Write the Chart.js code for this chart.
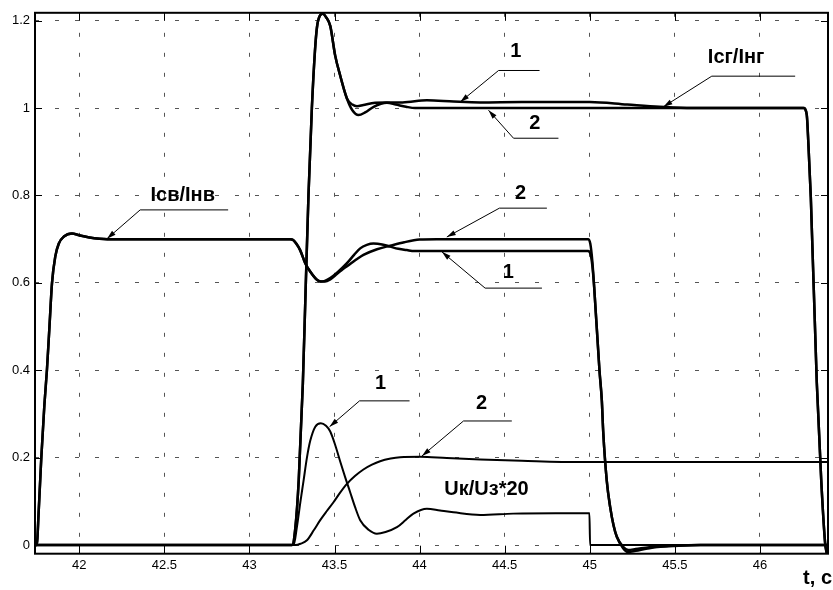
<!DOCTYPE html>
<html>
<head>
<meta charset="utf-8">
<script src="https://cdn.jsdelivr.net/npm/chart.js@4.4.0/dist/chart.umd.min.js"></script>
<style>
  html, body { margin: 0; padding: 0; background: #fff; }
  #wrap { width: 833px; height: 590px; position: relative; }
</style>
</head>
<body>
<div id="wrap"><canvas id="chart"></canvas></div>
<script>
// tick positions
const xTicks = [42, 42.5, 43, 43.5, 44, 44.5, 45, 45.5, 46];
const yTicks = [0, 0.2, 0.4, 0.6, 0.8, 1, 1.2];

// Iсв/Iнв, variant 1 and 2  [t, value]
const isv1 = [[41.74,0],[41.75,0],[41.762,0.08],[41.777,0.2],[41.795,0.32],[41.81,0.4],[41.825,0.5],[41.84,0.6],[41.859,0.66],[41.88,0.69],[41.91,0.706],[41.957,0.713],[42.0,0.709],[42.06,0.704],[42.12,0.701],[42.165,0.70],[43.24,0.70],[43.257,0.698],[43.275,0.69],[43.298,0.675],[43.328,0.645],[43.357,0.626],[43.397,0.607],[43.416,0.603],[43.44,0.604],[43.475,0.611],[43.52,0.625],[43.573,0.645],[43.615,0.664],[43.651,0.679],[43.69,0.687],[43.729,0.690],[43.78,0.688],[43.827,0.683],[43.875,0.678],[43.925,0.675],[43.97,0.673],[44.99,0.673],[45.005,0.665],[45.015,0.64],[45.026,0.59],[45.057,0.4],[45.071,0.33],[45.079,0.26],[45.1,0.147],[45.12,0.087],[45.14,0.045],[45.159,0.019],[45.196,-0.007],[45.226,-0.016],[45.27,-0.013],[45.35,-0.007],[45.414,-0.004],[45.5,-0.002],[45.65,0],[46.4,0]];
const isv2 = [[41.74,0],[41.75,0],[41.762,0.08],[41.777,0.2],[41.795,0.32],[41.81,0.4],[41.825,0.5],[41.84,0.6],[41.859,0.66],[41.88,0.69],[41.91,0.706],[41.957,0.713],[42.0,0.709],[42.06,0.704],[42.12,0.701],[42.165,0.70],[43.24,0.70],[43.257,0.698],[43.275,0.69],[43.298,0.675],[43.328,0.645],[43.357,0.626],[43.397,0.607],[43.42,0.603],[43.445,0.603],[43.475,0.608],[43.514,0.62],[43.55,0.632],[43.592,0.643],[43.63,0.654],[43.67,0.664],[43.75,0.677],[43.827,0.685],[43.91,0.693],[44.0,0.699],[44.1,0.70],[44.99,0.70],[45.003,0.69],[45.015,0.65],[45.026,0.59],[45.057,0.4],[45.071,0.33],[45.079,0.26],[45.1,0.147],[45.12,0.087],[45.14,0.045],[45.159,0.019],[45.196,-0.004],[45.226,-0.011],[45.27,-0.009],[45.35,-0.005],[45.414,-0.003],[45.5,-0.001],[45.65,0],[46.4,0]];

// Iсг/Iнг, variant 1 and 2
const icg1 = [[41.74,0],[43.25,0],[43.27,0.04],[43.29,0.15],[43.314,0.37],[43.33,0.58],[43.347,0.8],[43.367,1.0],[43.385,1.13],[43.397,1.185],[43.415,1.212],[43.432,1.216],[43.45,1.208],[43.475,1.188],[43.504,1.12],[43.533,1.075],[43.573,1.022],[43.605,1.008],[43.632,1.004],[43.67,1.007],[43.739,1.012],[43.8,1.013],[43.9,1.013],[44.043,1.018],[44.2,1.015],[44.356,1.013],[44.6,1.014],[45.0,1.014],[45.22,1.008],[45.41,1.003],[45.6,1.0],[46.256,1.0],[46.275,0.985],[46.285,0.916],[46.299,0.796],[46.334,0.373],[46.36,0.15],[46.383,0.005],[46.393,-0.02]];
const icg2 = [[41.74,0],[43.25,0],[43.27,0.04],[43.29,0.15],[43.314,0.37],[43.33,0.58],[43.347,0.8],[43.367,1.0],[43.385,1.13],[43.397,1.185],[43.415,1.212],[43.432,1.216],[43.45,1.208],[43.475,1.188],[43.504,1.12],[43.533,1.075],[43.573,1.022],[43.605,0.995],[43.641,0.984],[43.68,0.99],[43.73,1.003],[43.808,1.012],[43.86,1.008],[43.92,1.003],[43.974,1.0],[46.256,1.0],[46.275,0.985],[46.285,0.916],[46.299,0.796],[46.334,0.373],[46.36,0.15],[46.383,0.005],[46.393,-0.02]];

// Uк/Uз*20, variant 1 and 2
const uk1 = [[43.0,0],[43.26,0],[43.279,0.041],[43.3,0.1],[43.318,0.147],[43.338,0.2],[43.357,0.238],[43.387,0.271],[43.42,0.279],[43.45,0.273],[43.475,0.26],[43.505,0.228],[43.533,0.192],[43.562,0.156],[43.592,0.121],[43.62,0.088],[43.651,0.057],[43.7,0.035],[43.749,0.026],[43.8,0.03],[43.867,0.041],[43.92,0.058],[43.964,0.072],[44.043,0.083],[44.12,0.079],[44.199,0.075],[44.356,0.069],[44.55,0.072],[44.8,0.073],[44.998,0.073],[45.002,0],[46.4,0]];
const uk2 = [[43.0,0],[43.27,0],[43.3,0.003],[43.338,0.011],[43.38,0.035],[43.416,0.057],[43.455,0.078],[43.494,0.098],[43.533,0.12],[43.573,0.14],[43.62,0.158],[43.67,0.173],[43.72,0.184],[43.768,0.192],[43.83,0.198],[43.886,0.201],[44.004,0.202],[44.16,0.199],[44.356,0.196],[44.6,0.193],[44.944,0.19],[45.1,0.19],[46.4,0.19]];

// callouts: text centre, leader line (t1, t2, value), arrow tip -- all in axis units
const callouts = [
  { text: 'Iсв/Iнв', at: [42.608, 0.800], line: [42.358, 42.875, 0.767], tip: [42.163, 0.701] },
  { text: 'Iсг/Iнг', at: [45.860, 1.115], line: [45.717, 46.207, 1.073], tip: [45.433, 1.003] },
  { text: '1', at: [44.565, 1.129], line: [44.464, 44.705, 1.086], tip: [44.239, 1.014] },
  { text: '2', at: [44.677, 0.964], line: [44.552, 44.816, 0.931], tip: [44.405, 0.995] },
  { text: '2', at: [44.594, 0.805], line: [44.469, 44.748, 0.771], tip: [44.160, 0.705] },
  { text: '1', at: [44.522, 0.624], line: [44.385, 44.719, 0.588], tip: [44.131, 0.671] },
  { text: '1', at: [43.771, 0.370], line: [43.647, 43.941, 0.330], tip: [43.471, 0.271] },
  { text: '2', at: [44.364, 0.324], line: [44.258, 44.542, 0.284], tip: [44.014, 0.204] },
  { text: 'Uк/Uз*20', at: [44.393, 0.127] }
];

const FONT = '"Liberation Sans", Arial, sans-serif';

function series(points, width) {
  return {
    data: points.map(([x, y]) => ({ x, y })),
    borderColor: '#000',
    borderWidth: width,
    pointRadius: 0,
    fill: false,
    cubicInterpolationMode: 'monotone'
  };
}

function drawArrow(ctx, x1, y1, x2, y2) {
  const ang = Math.atan2(y2 - y1, x2 - x1);
  const len = 9, w = 2.6;
  ctx.beginPath();
  ctx.moveTo(x1, y1);
  ctx.lineTo(x2, y2);
  ctx.stroke();
  const bx = x2 - len * Math.cos(ang), by = y2 - len * Math.sin(ang);
  ctx.beginPath();
  ctx.moveTo(x2, y2);
  ctx.lineTo(bx + w * Math.sin(ang), by - w * Math.cos(ang));
  ctx.lineTo(bx - w * Math.sin(ang), by + w * Math.cos(ang));
  ctx.closePath();
  ctx.fill();
}

const framePlugin = {
  id: 'frame',
  afterDraw(chart) {
    const { ctx, chartArea: a, scales: { x, y } } = chart;
    ctx.save();
    ctx.strokeStyle = '#000';
    ctx.fillStyle = '#000';

    // inward tick marks
    ctx.lineWidth = 1;
    ctx.beginPath();
    xTicks.forEach(t => {
      const px = Math.round(x.getPixelForValue(t)) + 0.5;
      ctx.moveTo(px, a.bottom); ctx.lineTo(px, a.bottom - 8);
      ctx.moveTo(px, a.top); ctx.lineTo(px, a.top + 8);
    });
    yTicks.forEach(v => {
      const py = Math.round(y.getPixelForValue(v)) + 0.5;
      ctx.moveTo(a.left, py); ctx.lineTo(a.left + 7, py);
      ctx.moveTo(a.right, py); ctx.lineTo(a.right - 7, py);
    });
    ctx.stroke();

    // box
    ctx.lineWidth = 2;
    ctx.strokeRect(a.left, a.top, a.right - a.left, a.bottom - a.top);

    // callouts
    ctx.lineWidth = 1;
    ctx.font = 'bold 20px ' + FONT;
    ctx.textAlign = 'center';
    ctx.textBaseline = 'middle';
    callouts.forEach(c => {
      ctx.fillText(c.text, x.getPixelForValue(c.at[0]), y.getPixelForValue(c.at[1]));
      if (!c.line) return;
      const lx1 = x.getPixelForValue(c.line[0]);
      const lx2 = x.getPixelForValue(c.line[1]);
      const ly = y.getPixelForValue(c.line[2]);
      ctx.beginPath();
      ctx.moveTo(lx1, ly); ctx.lineTo(lx2, ly);
      ctx.stroke();
      drawArrow(ctx, lx1, ly, x.getPixelForValue(c.tip[0]), y.getPixelForValue(c.tip[1]));
    });

    // axis title
    ctx.textAlign = 'right';
    ctx.fillText('t, с', chart.width - 1, a.bottom + 25);
    ctx.restore();
  }
};

const tickFont = { family: FONT, size: 13 };

new Chart(document.getElementById('chart'), {
  type: 'line',
  data: {
    datasets: [
      series(isv1, 2.5),
      series(isv2, 2.5),
      series(icg1, 2.5),
      series(icg2, 2.5),
      series(uk1, 2),
      series(uk2, 2)
    ]
  },
  options: {
    responsive: true,
    maintainAspectRatio: false,
    animation: false,
    layout: { padding: { top: 7, right: 5, left: 0, bottom: 0 } },
    plugins: { legend: { display: false }, tooltip: { enabled: false } },
    scales: {
      x: {
        type: 'linear',
        min: 41.74,
        max: 46.40,
        afterBuildTicks: s => { s.ticks = xTicks.map(v => ({ value: v })); },
        afterFit: s => { s.height = 36.3; },
        grid: { color: '#555', lineWidth: 1, drawTicks: false },
        border: { display: false, dash: [4, 16] },
        ticks: { color: '#000', font: tickFont, padding: 4, autoSkip: false, maxRotation: 0, callback: v => String(v) }
      },
      y: {
        type: 'linear',
        min: -0.0197,
        max: 1.218,
        afterBuildTicks: s => { s.ticks = yTicks.map(v => ({ value: v })); },
        afterFit: s => { s.width = 35; },
        grid: { color: '#555', lineWidth: 1, drawTicks: false },
        border: { display: false, dash: [4, 16] },
        ticks: { color: '#000', font: tickFont, padding: 5, autoSkip: false, callback: v => String(v) }
      }
    }
  },
  plugins: [framePlugin]
});
</script>
</body>
</html>
